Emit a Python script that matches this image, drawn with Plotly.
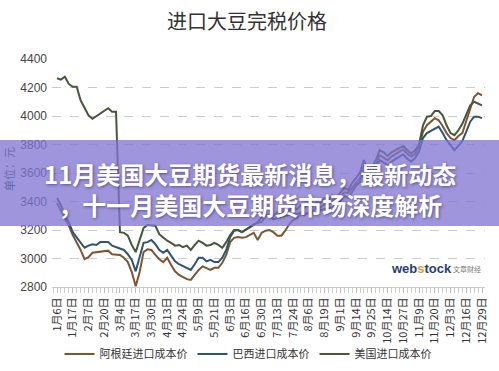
import plotly.graph_objects as go

tick_labels = ["1月6日", "1月17日", "2月7日", "2月20日", "3月4日", "3月17日", "3月30日",
               "4月13日", "4月24日", "5月9日", "5月21日", "6月3日", "6月16日", "6月30日",
               "7月13日", "7月24日", "8月6日", "8月19日", "9月1日", "9月14日", "9月25日",
               "10月14日", "10月27日", "11月9日", "11月20日", "12月3日", "12月16日", "12月29日"]

# 4 samples per labelled interval
argentina = [3390, 3340, 3285, 3230, 3165, 3115, 3060, 2995, 3010, 3040,
             3045, 3045, 3055, 3055, 3030, 3030, 3025, 3005, 2975, 2905,
             2805, 2905, 3045, 3065, 3060, 3025, 2995, 2975, 3005, 2955,
             2910, 2885, 2870, 2855, 2850, 2885, 2920, 2945, 2935, 2920,
             2935, 2935, 2970, 3025, 3115, 3145, 3150, 3145, 3150, 3165,
             3180, 3130, 3180, 3195, 3200, 3185, 3160, 3160, 3195, 3240,
             3270, 3285, 3310, 3305, 3325, 3335, 3355, 3360, 3380, 3380,
             3410, 3410, 3440, 3465, 3460, 3495, 3535, 3565, 3655, 3585,
             3605, 3655, 3725, 3710, 3690, 3715, 3735, 3750, 3765, 3735,
             3715, 3735, 3785, 3890, 3935, 3960, 3985, 3970, 3930, 3880,
             3845, 3830, 3860, 3880, 3970, 4055, 4135, 4160, 4145]

brazil = [3425, 3375, 3305, 3255, 3185, 3150, 3110, 3075, 3090, 3100,
          3095, 3115, 3115, 3115, 3090, 3080, 3075, 3060, 3030, 2990,
          2910, 3005, 3110, 3115, 3130, 3100, 3060, 3040, 3060, 3020,
          2980, 2960, 2945, 2935, 2920, 2960, 3005, 3005, 2980, 2990,
          2975, 2975, 3005, 3060, 3150, 3195, 3200, 3185, 3200, 3215,
          3235, 3255, 3290, 3310, 3300, 3275, 3285, 3290, 3300, 3305,
          3320, 3310, 3325, 3310, 3320, 3320, 3325, 3340, 3345, 3355,
          3360, 3375, 3410, 3440, 3425, 3465, 3510, 3535, 3620, 3550,
          3565, 3620, 3690, 3675, 3655, 3680, 3700, 3715, 3730, 3700,
          3680, 3705, 3750, 3845, 3880, 3895, 3915, 3925, 3880, 3830,
          3795, 3760, 3790, 3825, 3890, 3960, 3995, 3995, 3985]

usa = [4265, 4255, 4275, 4225, 4205, 4205, 4110, 4055, 4005, 3980,
       4000, 4020, 4040, 4055, 4030, 4030, 3185, 3180, 3160, 3095,
       3045, 3130, 3215, 3235, 3230, 3230, 3170, 3145, 3125, 3110,
       3090, 3095, 3080, 3090, 3060, 3095, 3125, 3110, 3090, 3095,
       3110, 3095, 3075, 3115, 3165, 3200, 3200, 3185, 3205, 3220,
       3240, 3250, 3255, 3300, 3310, 3300, 3325, 3310, 3340, 3335,
       3360, 3345, 3375, 3360, 3390, 3370, 3395, 3390, 3425, 3410,
       3445, 3430, 3465, 3495, 3480, 3530, 3565, 3605, 3690, 3620,
       3635, 3690, 3760, 3745, 3720, 3745, 3760, 3775, 3790, 3760,
       3735, 3760, 3800, 3935, 3995, 4000, 4035, 4035, 4005, 3935,
       3880, 3865, 3900, 3945, 4005, 4075, 4100, 4085, 4075]

y_ticks = [2800, 3000, 3200, 3400, 3600, 3800, 4000, 4200, 4400]

series_names = ["阿根廷进口成本价", "巴西进口成本价", "美国进口成本价"]
series_colors = ["#7d5532", "#2f5473", "#44583a"]

x = list(range(len(usa)))
tick_pos = x[::4]

cjk = "Noto Sans CJK SC"
W, H = 499, 371
L, R, T, B = 52, 14, 59, 84
PW, PH = W - L - R, H - T - B


def px(xp):
    return (xp - L) / PW


def py(yp):
    return (H - B - yp) / PH


fig = go.Figure()
for name, vals, col in zip(series_names, [argentina, brazil, usa], series_colors):
    fig.add_trace(go.Scatter(x=x, y=vals, mode="lines", name=name,
                             line=dict(color=col, width=2), hoverinfo="skip"))

fig.update_layout(
    width=W, height=H,
    margin=dict(l=L, r=R, t=T, b=B, pad=0, autoexpand=False),
    paper_bgcolor="white", plot_bgcolor="white",
    title=dict(text="进口大豆完税价格", x=0.495, xref="container", y=1 - 22 / H,
               yref="container", xanchor="center", yanchor="middle",
               font=dict(family=cjk, size=20, color="#333333")),
    showlegend=True,
    legend=dict(orientation="h", xref="paper", yref="paper", x=px(248), y=py(354),
                xanchor="center", yanchor="middle", font=dict(family=cjk, size=11, color="#333333"),
                itemwidth=30, tracegroupgap=0, bgcolor="rgba(0,0,0,0)"),
    xaxis=dict(range=[-1.27, 108.76], tickvals=tick_pos, ticktext=tick_labels, tickangle=-90,
               tickfont=dict(family=cjk, size=11, color="#333333"), automargin=False,
               showgrid=False, zeroline=False, showline=True, linecolor="#cccccc", linewidth=1,
               ticks="outside", ticklen=5, tickcolor="#bbbbbb",
               minor=dict(ticks="outside", dtick=1, tick0=0, ticklen=5, tickcolor="#cccccc"),
               fixedrange=True),
    yaxis=dict(range=[2800, 4400], tickvals=y_ticks, showgrid=True, gridcolor="#cccccc",
               griddash="dash", gridwidth=1, zeroline=False, showline=False, ticks="",
               tickfont=dict(family="Liberation Sans", size=12, color="#444444"), automargin=False,
               ticklabelstandoff=4, fixedrange=True),
)

# purple banner over the chart
fig.add_shape(type="rect", xref="paper", yref="paper", x0=px(0), x1=px(W), y0=py(226), y1=py(140),
              fillcolor="rgba(128,116,210,0.76)", line=dict(width=0), layer="above")

shadow = "1px 1px 3px rgba(40,30,90,0.55)"
fig.add_annotation(text="<b>11月美国大豆期货最新消息，最新动态</b><br><b>，十一月美国大豆期货市场深度解析</b>",
                   xref="paper", yref="paper", x=px(250), y=py(189), showarrow=False,
                   xanchor="center", yanchor="middle", align="center",
                   font=dict(family=cjk, size=24, color="white", shadow=shadow))

# y-axis unit (sits under the banner, so tinted)
fig.add_annotation(text="单位：元", xref="paper", yref="paper", x=px(9), y=py(169),
                   showarrow=False, textangle=-90, xanchor="center", yanchor="middle",
                   font=dict(family=cjk, size=11, color="#6e66a8"))

# watermark
fig.add_annotation(text="<b>web<span style='color:#e39a2a'>s</span>tock</b>", xref="paper", yref="paper",
                   x=px(421), y=py(268), showarrow=False, xanchor="center", yanchor="middle",
                   font=dict(family="Liberation Sans", size=13, color="#1f3f73"))
fig.add_annotation(text="文章财经", xref="paper", yref="paper",
                   x=px(467), y=py(269), showarrow=False, xanchor="center", yanchor="middle",
                   font=dict(family=cjk, size=7, color="#777777"))

fig.write_html("out.html", config={"displayModeBar": False},
               post_script="document.body.style.margin='0px';")
